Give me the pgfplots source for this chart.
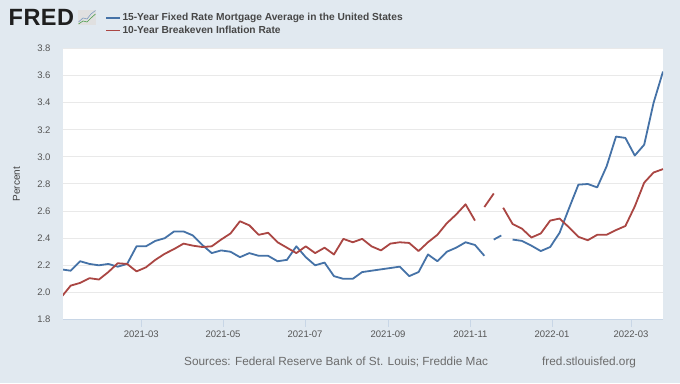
\documentclass[border=0pt]{standalone}
\usepackage{fontspec}
\setmainfont{Liberation Sans}
\newfontfamily\logofont{Liberation Sans}
\usepackage{pgfplots}
\pgfplotsset{compat=1.18}
\usepackage{pgfplotstable}
\definecolor{bgc}{HTML}{E1E9F0}
\definecolor{fredblue}{HTML}{4572A7}
\definecolor{fredred}{HTML}{AA4643}
\definecolor{gridc}{HTML}{E9E9E9}
\definecolor{axc}{HTML}{C8D6E6}
\definecolor{txtc}{HTML}{555555}
\pgfplotstableread{
x y
0 2.17
1 2.16
2 2.23
3 2.21
4 2.20
5 2.21
6 2.19
7 2.21
8 2.34
9 2.34
10 2.38
11 2.40
12 2.45
13 2.45
14 2.42
15 2.35
16 2.29
17 2.31
18 2.30
19 2.26
20 2.29
21 2.27
22 2.27
23 2.23
24 2.24
25 2.34
26 2.26
27 2.20
28 2.22
29 2.12
30 2.10
31 2.10
32 2.15
36 2.19
37 2.12
38 2.15
39 2.28
40 2.23
41 2.30
42 2.33
43 2.37
44 2.35
45 2.27
45.5 nan
46 2.39
46.8 2.42
47.5 nan
48 2.39
49 2.38
50 2.345
51 2.305
52 2.335
53 2.44
54 2.62
55 2.795
56 2.80
57 2.775
58 2.93
59 3.15
60 3.14
61 3.01
62 3.09
63 3.40
64 3.63
}\mortgage
\pgfplotstableread{
x y
0 1.965
1 2.05
2 2.07
3 2.105
4 2.095
5 2.15
6 2.215
7 2.21
8 2.155
9 2.185
10 2.24
11 2.285
12 2.32
13 2.36
14 2.345
15 2.335
16 2.34
17 2.39
18 2.435
19 2.525
20 2.495
21 2.425
22 2.44
23 2.37
24 2.33
25 2.29
26 2.34
27 2.29
28 2.33
29 2.28
30 2.395
31 2.37
32 2.395
33 2.34
34 2.31
35 2.36
36 2.37
37 2.365
38 2.305
39 2.37
40 2.425
41 2.51
42 2.575
43 2.65
44 2.53
44.5 nan
45 2.63
46 2.73
46.5 nan
47 2.625
48 2.505
49 2.47
50 2.405
51 2.435
52 2.53
53 2.545
54 2.48
55 2.41
56 2.385
57 2.425
58 2.425
59 2.46
60 2.49
61 2.635
62 2.81
63 2.885
64 2.91
}\breakeven
\begin{document}
\begin{tikzpicture}[x=1pt,y=1pt]
\fill[bgc] (0,0) rectangle (680,383);
% logo
\node[anchor=west,inner sep=0pt,text=black!88] at (8.5,383-17.5) {\fontsize{23.5}{24}\selectfont\bfseries\logofont\addfontfeature{LetterSpace=2}FRED};
\fill[white!88!black] (78,383-10) rectangle (96,383-25);
\draw[fredblue!70,line width=0.6pt] (78.5,383-22) -- (83,383-18) -- (87,383-19) -- (91,383-14) -- (95.5,383-10.5);
\draw[green!45!black!70,line width=0.6pt] (78.5,383-24) -- (83,383-21) -- (87,383-22) -- (91,383-18) -- (95.5,383-14);
\begin{axis}[
  at={(63pt,63.5pt)},anchor=south west,
  scale only axis,width=600pt,height=271pt,
  xmin=0.18,xmax=64,ymin=1.8,ymax=3.8,
  axis background/.style={fill=white},
  ytick={1.8,2.0,...,3.8},
  xtick={8.51,17.2,25.93,34.76,43.51,52.2,60.6},
  xticklabels={2021-03,2021-05,2021-07,2021-09,2021-11,2022-01,2022-03},
  ymajorgrids,
  major grid style={gridc,line width=1pt},
  axis x line*=bottom,
  axis y line*=left,
  x axis line style={axc,line width=0.8pt,-},
  y axis line style={draw=none},
  tick align=outside,
  major tick length=7pt,
  xtick style={axc,line width=0.8pt},
  ytick style={draw=none},
  ticklabel style={font=\fontsize{9.5}{11}\selectfont,text=txtc},
  xticklabel style={yshift=-0.5pt},
  yticklabel style={xshift=-2pt},
  /pgf/number format/.cd,fixed,fixed zerofill,precision=1,assume math mode=true,
  /pgfplots/.cd,
  ylabel={Percent},
  ylabel style={font=\fontsize{10}{12}\selectfont,text=black!75,at={(axis description cs:-0.0775,0.5)},anchor=center,xshift=0pt,yshift=0pt},
  unbounded coords=jump,
  legend style={at={(44pt,282.5pt)},anchor=south west,draw=none,fill=none,
    font=\fontsize{10.2}{11}\selectfont\bfseries,text=black!72,
    inner sep=0pt,outer sep=0pt,row sep=0pt,cells={anchor=west},
    /tikz/every even column/.style={column sep=4pt}},
  legend cell align=left,
  legend image code/.code={\draw[#1,line width=1.7pt] (0,0) -- (13.5pt,0);},
]
\addplot[fredblue,line width=1.8pt,line join=round] table[x=x,y=y]{\mortgage};
\addlegendentry{15-Year Fixed Rate Mortgage Average in the United States}
\addplot[fredred,line width=1.8pt,line join=round] table[x=x,y=y]{\breakeven};
\addlegendentry{10-Year Breakeven Inflation Rate}
\end{axis}
\node[anchor=base west,inner sep=0pt,text=black!58] at (184,383-365.5) {\fontsize{11.8}{14}\selectfont Sources: Federal Reserve Bank of St. Louis; Freddie Mac};
\node[anchor=base west,inner sep=0pt,text=black!58] at (542,383-365.5) {\fontsize{11.8}{14}\selectfont fred.stlouisfed.org};
\end{tikzpicture}
\end{document}
